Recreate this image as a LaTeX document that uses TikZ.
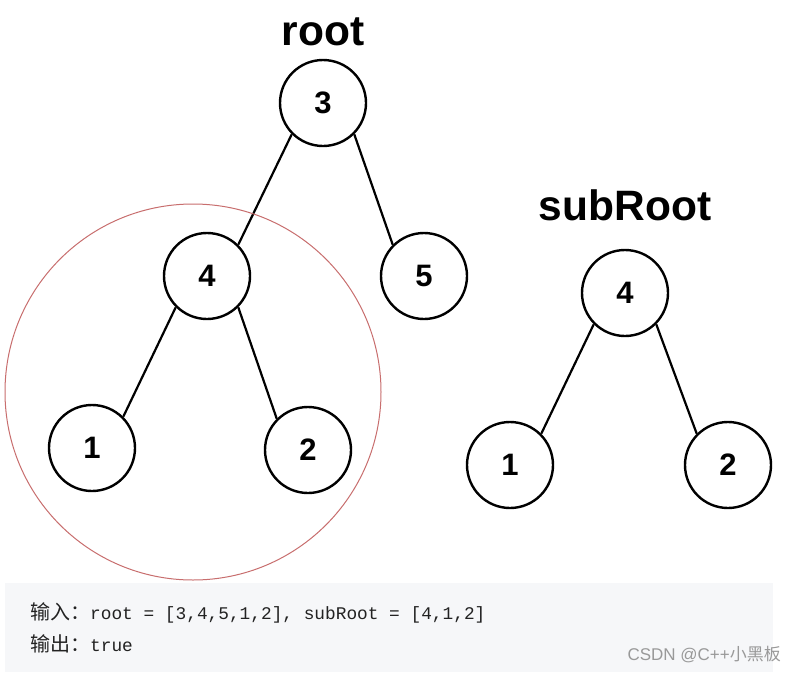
\documentclass[tikz,border=0pt]{standalone}
\usepackage{fontspec}
\setmainfont{Liberation Sans}
\setmonofont{Liberation Mono}
\newfontfamily\cjk{Noto Sans CJK SC}
\definecolor{boxbg}{RGB}{246,247,249}
\definecolor{hlred}{RGB}{200,110,110}
\definecolor{codetxt}{RGB}{34,34,34}
\begin{document}
\begin{tikzpicture}[x=1pt,y=-1pt,
  tn/.style={circle,draw,line width=2.4pt,minimum size=86pt,inner sep=0pt,font=\fontsize{31}{33}\selectfont\bfseries},
  lbl/.style={font=\fontsize{42.5}{46}\selectfont\bfseries,inner sep=0pt},
  edge/.style={line width=2.2pt},
  code/.style={anchor=west,inner sep=0pt,text=codetxt,font=\fontsize{17.8}{20}\selectfont}]
\useasboundingbox (0,0) rectangle (795,672);
\fill[white] (0,0) rectangle (795,672);
\fill[boxbg] (5,583) rectangle (773,672);
% root tree
\node[lbl] (lroot) at (323,32) {root};
\node[tn] (r3) at (323,103) {3};
\node[tn] (r4) at (207,276) {4};
\node[tn] (r5) at (424,276) {5};
\node[tn] (r1) at (92,448) {1};
\node[tn] (r2) at (308,450) {2};
\draw[edge] (r3.south west) -- (r4.north east);
\draw[edge] (r3.south east) -- (r5.north west);
\draw[edge] (r4.south west) -- (r1.north east);
\draw[edge] (r4.south east) -- (r2.north west);
\node[circle,draw=hlred,line width=1pt,minimum size=376pt,inner sep=0pt] (hl) at (193,392) {};
% subRoot tree
\node[lbl] (lsub) at (625,205) {subRoot};
\node[tn] (s4) at (625,293) {4};
\node[tn] (s1) at (510,465) {1};
\node[tn] (s2) at (728,465) {2};
\draw[edge] (s4.south west) -- (s1.north east);
\draw[edge] (s4.south east) -- (s2.north west);
% text
\node[code] (in) at (30,613) {{\cjk\fontsize{20}{22}\selectfont 输入：}\texttt{root = [3,4,5,1,2], subRoot = [4,1,2]}};
\node[code] (out) at (30,644) {{\cjk\fontsize{20}{22}\selectfont 输出：}\texttt{true}};
\node[anchor=east,inner sep=0pt,text=black!40,font=\fontsize{17}{19}\selectfont] (wm) at (781,655) {CSDN @C++{\cjk 小黑板}};
\end{tikzpicture}
\end{document}
